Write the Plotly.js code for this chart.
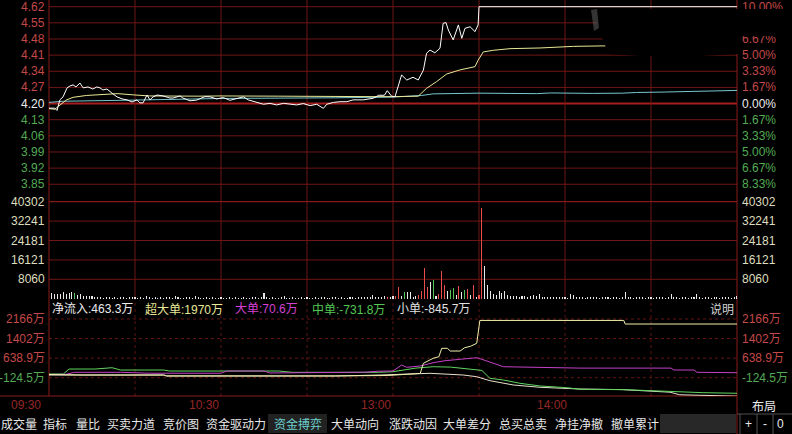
<!DOCTYPE html>
<html>
<head>
<meta charset="utf-8">
<script src="https://cdn.plot.ly/plotly-3.0.1.min.js"></script>
<style>
html,body{margin:0;padding:0;background:#000;}
#chart{width:792px;height:434px;}
</style>
</head>
<body>
<div id="chart"></div>
<script>
// Time axis is a minute index: 0 = 09:30, 120 = 11:30 / 13:00, 240 = 15:00
const timeLabels = ['09:30', '10:30', '13:00', '14:00'];
const timeMinutes = [0, 60, 120, 180];

// Price axis (left) and change vs previous close (right)
const priceTicks = [4.62, 4.55, 4.48, 4.41, 4.34, 4.27, 4.20, 4.13, 4.06, 3.99, 3.92, 3.85];
const pctLabels = ['10.00%', '8.33%', '6.67%', '5.00%', '3.33%', '1.67%', '0.00%', '1.67%', '3.33%', '5.00%', '6.67%', '8.33%'];
const prevClose = 4.20;

// Volume and fund-flow axes
const volTicks = [40302, 32241, 24181, 16121, 8060];
const flowTicks = [2166, 1402, 638.9, -124.5];
const flowTickLabels = ['2166万', '1402万', '638.9万', '-124.5万'];

// Last price (white)
const priceT = [0, 2, 2.8, 3.8, 4.9, 6.3, 7.3, 8.4, 9.4, 10.8, 11.9, 13.6, 15.3, 16.7, 17.8, 18.8, 20.2, 21.3, 22.3, 23.7,
  25.5, 27.2, 29, 30.7, 31.7, 32.8, 34.2, 35.2, 36.3, 37.7, 39.8, 42.2, 43.3, 45.7, 46.7, 49.2, 51.5, 54.4, 56.2, 58.5,
  60.8, 63.1, 65.5, 67.8, 69.5, 72.4, 74.8, 77.1, 79.4, 81.8, 84.1, 86.4, 88.7, 91.1, 93.4, 95.7, 96.9, 99.2, 101.5, 103.9,
  106.1, 109.6, 113.1, 115, 117, 118, 119.5, 120.7, 123, 124.8, 127, 128.8, 130.6, 131.7, 132.9, 134.6, 136.4, 137.5, 138.5, 139.3,
  141, 142.8, 144, 145.1, 146.9, 148.6, 149.7, 150, 240];
const priceV = [4.18, 4.18, 4.17, 4.216, 4.229, 4.268, 4.276, 4.281, 4.272, 4.289, 4.268, 4.272, 4.263, 4.272, 4.268, 4.259, 4.263, 4.25, 4.242, 4.229,
  4.22, 4.216, 4.207, 4.216, 4.203, 4.203, 4.237, 4.216, 4.229, 4.237, 4.233, 4.224, 4.224, 4.233, 4.224, 4.212, 4.215, 4.23, 4.229, 4.22,
  4.226, 4.214, 4.22, 4.229, 4.216, 4.205, 4.197, 4.201, 4.194, 4.201, 4.197, 4.194, 4.2, 4.191, 4.197, 4.179, 4.197, 4.205, 4.208, 4.208,
  4.216, 4.216, 4.223, 4.236, 4.236, 4.256, 4.232, 4.23, 4.324, 4.302, 4.314, 4.302, 4.345, 4.418, 4.432, 4.42, 4.44, 4.548, 4.551, 4.519,
  4.476, 4.541, 4.483, 4.526, 4.533, 4.512, 4.541, 4.62, 4.62];

// Yellow line in the price panel
const avgT = [0, 2, 6, 8.4, 13, 21, 24, 29, 35, 52, 60, 80, 100, 113, 120, 128.8, 131.7, 135.2, 138.7, 143.4,
  148.6, 149.7, 151.5, 155, 160.8, 171.3, 182.9, 193.3, 215, 240];
const avgV = [4.178, 4.175, 4.215, 4.227, 4.235, 4.242, 4.243, 4.238, 4.233, 4.232, 4.233, 4.232, 4.229, 4.23, 4.23, 4.232, 4.266, 4.295, 4.328, 4.346,
  4.36, 4.388, 4.424, 4.431, 4.438, 4.441, 4.448, 4.45, 4.451, 4.452];

// Cyan line in the price panel
const cyanT = [0, 5, 30, 60, 100, 120, 130, 134, 150, 160, 170, 175, 182, 190, 200, 205, 215, 230, 240];
const cyanV = [4.205, 4.21, 4.215, 4.222, 4.225, 4.228, 4.235, 4.242, 4.245, 4.244, 4.243, 4.246, 4.244, 4.244, 4.245, 4.248, 4.25, 4.254, 4.257];

// Per-minute volume (minutes 1..240)
const volume = [
  2500, 1800, 1800, 2000, 2900, 1800, 2200, 2900, 2200, 1600, 2000, 1200, 1200, 1000, 1000,
  800, 600, 700, 500, 900, 600, 400, 700, 500, 600, 800, 500, 600, 900, 700,
  500, 600, 400, 1300, 600, 500, 700, 400, 600, 500, 800, 600, 500, 1000, 600,
  500, 400, 600, 700, 500, 1200, 600, 500, 400, 600, 500, 700, 400, 500, 600,
  400, 500, 600, 500, 700, 400, 500, 600, 400, 500, 800, 600, 500, 600, 2500,
  600, 500, 700, 400, 500, 600, 1300, 500, 400, 600, 500, 400, 700, 500, 600,
  500, 400, 600, 500, 700, 600, 500, 400, 600, 700, 500, 600, 400, 500, 600,
  700, 500, 600, 900, 700, 900, 600, 1500, 800, 700, 700, 1200, 900, 800, 1000,
  1300, 5000, 1200, 2900, 2900, 2900, 800, 1200, 1700, 3300, 12600, 4700, 7000, 7800, 1200,
  2000, 11600, 5500, 3000, 3700, 4300, 1500, 5300, 2600, 3700, 4000, 1600, 5600, 700, 1700,
  37560, 13600, 5700, 3000, 2000, 1600, 3300, 2500, 3000, 1600, 1100, 1000, 1100, 900, 1100,
  1100, 800, 1100, 1600, 1000, 2000, 700, 600, 800, 700, 600, 700, 800, 600, 700,
  500, 2000, 1600, 700, 600, 800, 500, 700, 600, 700, 600, 500, 700, 600, 800,
  500, 600, 700, 500, 600, 2900, 700, 600, 500, 700, 600, 800, 500, 700, 600,
  500, 700, 600, 800, 500, 700, 2000, 600, 700, 500, 800, 600, 500, 700, 600,
  2000, 700, 500, 600, 800, 500, 700, 600, 500, 700, 600, 800, 500, 700, 1200
];
const upMinutes = [118, 121, 122, 129, 130, 131, 132, 136, 137, 138, 143, 146, 148, 150, 151];
const downMinutes = [9, 124, 134, 140, 141, 145];

// Cumulative fund flow by order size (万)
const superT = [0, 4, 12, 40, 41, 100, 118, 125, 129.5, 130.6, 134, 136, 137, 139, 140, 143.4, 145, 147, 149.2, 150.3, 200.5, 201, 240];
const superV = [0, -10, -19, -19, -55, -55, -40, 10, 40, 437, 632, 694, 1021, 1021, 916, 916, 1045, 1100, 1216, 2110, 2110, 1970, 1970];

const largeT = [0, 6, 9, 25, 35, 60, 62, 75, 77, 110, 115, 120, 123, 124.8, 129.4, 134, 138.1, 143.4, 149.2, 150.3, 155, 158.5, 185, 217, 218, 225, 226, 240];
const largeV = [0, 10, 86, 86, 50, 50, 136, 136, 60, 90, 130, 136, 370, 281, 330, 460, 538, 592, 655, 620, 437, 304, 250, 250, 175, 175, 86, 70.6];

const mediumT = [0, 5, 7, 16, 22, 25, 40, 42, 80, 85, 115, 120, 128, 134, 140, 149, 151, 153.8, 158.5, 164.3, 171.3, 180.6, 185.2, 200.3, 216.6, 228.2, 240];
const mediumV = [20, 20, 214, 214, 265, 175, 175, 136, 136, 86, 86, 109, 250, 304, 290, 175, 160, -148, -214, -343, -448, -514, -577, -590, -670, -709, -731.8];

const smallT = [0, 10, 40, 41, 100, 115.5, 125.9, 132.9, 144.5, 149.2, 153.8, 162, 171.3, 185.2, 200, 216.6, 220, 240];
const smallV = [-20, -20, -20, -58, -58, -19, 8, 47, -19, -86, -241, -409, -499, -565, -590, -690, -790, -845.7];

const netInflow = 463.3;

// ---------- layout helpers (pixel -> paper) ----------
const W = 792, H = 434, L = 49, R = 737, TOP = 0, BOT = 396;
const px = x => (x - L) / (R - L);
const py = y => (BOT - y) / (BOT - TOP);

const NUM = 'Liberation Sans, Arial, Noto Sans CJK SC, sans-serif';
const CJK = 'Noto Sans CJK SC, sans-serif';
const RED_T = 'rgb(196,72,72)', GRN_T = 'rgb(84,170,84)', WHT_T = 'rgb(236,236,236)', BEIGE_T = 'rgb(222,222,190)';

const annotations = [];
function label(text, xPix, yVal, yref, color, anchor, family, size) {
  annotations.push({
    text: text, xref: 'paper', yref: yref, x: px(xPix), y: yVal,
    xanchor: anchor, yanchor: 'middle', showarrow: false, borderpad: 0,
    font: {family: family || NUM, size: size || 12, color: color}
  });
}

// axis labels
priceTicks.forEach((p, i) => {
  const c = p > prevClose ? RED_T : (p < prevClose ? GRN_T : WHT_T);
  label(p.toFixed(2), 46, p, 'y', c, 'right');
  label(pctLabels[i], 741, p, 'y', c, 'left');
});
volTicks.forEach(v => {
  label(String(v), 46, v, 'y2', BEIGE_T, 'right');
  label(String(v), 741, v, 'y2', BEIGE_T, 'left');
});
flowTicks.forEach((v, i) => {
  const c = v > 0 ? RED_T : GRN_T;
  label(flowTickLabels[i], 46, v, 'y3', c, 'right');
  label(flowTickLabels[i], 741, v, 'y3', c, 'left');
});

// time labels under the chart, set just left of their gridline
const timeNudge = [-7, -1, -1, 3];
timeLabels.forEach((t, i) => {
  const xp = L + timeMinutes[i] * (R - L) / 240;
  annotations.push({text: t, xref: 'paper', yref: 'paper', x: px(xp + timeNudge[i]), y: py(405),
    xanchor: 'right', yanchor: 'middle', showarrow: false, borderpad: 0,
    font: {family: NUM, size: 12, color: 'rgb(150,38,38)'}});
});

// fund-flow legend row
function rowText(text, xPix, color, anchor) {
  annotations.push({text: text, xref: 'paper', yref: 'paper', x: px(xPix), y: py(309),
    xanchor: anchor || 'left', yanchor: 'middle', showarrow: false, borderpad: 0,
    font: {family: NUM, size: 12, color: color}});
}
const fmt = v => (Math.round(v * 10) / 10).toString() + '万';
rowText('净流入:' + fmt(netInflow), 51, WHT_T);
rowText('超大单:' + fmt(superV[superV.length - 1]), 144, 'rgb(232,232,150)');
rowText('大单:' + fmt(largeV[largeV.length - 1]), 234, 'rgb(214,64,214)');
rowText('中单:' + fmt(mediumV[mediumV.length - 1]), 311, 'rgb(84,200,84)');
rowText('小单:' + fmt(smallV[smallV.length - 1]), 396, 'rgb(226,226,226)');
rowText('说明', 735, 'rgb(210,210,210)', 'right');

// bottom tab bar
const tabs = ['成交量', '指标', '量比', '买卖力道', '竞价图', '资金驱动力', '资金搏弈', '大单动向', '涨跌动因', '大单差分', '总买总卖', '净挂净撤', '撤单累计'];
const tabX = [0, 42, 75, 106, 162, 205, 273, 330, 388, 442, 498, 554, 610];
tabs.forEach((t, i) => {
  annotations.push({text: t, xref: 'paper', yref: 'paper', x: px(tabX[i]), y: py(423),
    xanchor: 'left', yanchor: 'middle', showarrow: false, borderpad: 0,
    font: {family: CJK, size: 12, color: t === '资金搏弈' ? 'rgb(110,208,208)' : 'rgb(232,232,232)'}});
});
[['+', 748], ['-', 765], ['0', 781]].forEach(b => {
  annotations.push({text: b[0], xref: 'paper', yref: 'paper', x: px(b[1]), y: py(424),
    xanchor: 'center', yanchor: 'middle', showarrow: false, borderpad: 0,
    font: {family: NUM, size: 12, color: 'rgb(232,232,232)'}});
});
annotations.push({text: '布局', xref: 'paper', yref: 'paper', x: px(764), y: py(405),
  xanchor: 'center', yanchor: 'middle', showarrow: false, borderpad: 0,
  font: {family: CJK, size: 12, color: 'rgb(236,236,236)'}});

// black block over the upper right labels (drawn last so it sits on top of them)
annotations.push({text: ' ', xref: 'paper', yref: 'paper', x: px(738), y: py(9),
  xanchor: 'left', yanchor: 'top', showarrow: false, borderpad: 0, borderwidth: 0,
  width: 54, height: 27, bgcolor: '#000', font: {size: 1, color: '#000'}});

// ---------- grid and frame ----------
const shapes = [];
function hline(yref, y, color, width, dash, x0, x1) {
  shapes.push({type: 'line', xref: 'paper', yref: yref, x0: x0 === undefined ? 0 : x0, x1: x1 === undefined ? 1 : x1,
    y0: y, y1: y, layer: 'below', line: {color: color, width: width, dash: dash || 'solid'}});
}
function vline(x, y0, y1, color, width, dash, xref) {
  shapes.push({type: 'line', xref: xref || 'x', yref: 'paper', x0: x, x1: x, y0: y0, y1: y1,
    layer: 'below', line: {color: color, width: width, dash: dash || 'solid'}});
}
const GRID = 'rgb(112,22,22)';
priceTicks.forEach(p => {
  if (p === prevClose) hline('y', p, 'rgb(165,30,30)', 2);
  else hline('y', p, GRID, 1);
});
volTicks.forEach((v, i) => hline('y2', v, i === 0 ? 'rgb(165,30,30)' : GRID, 1));
flowTicks.forEach(v => hline('y3', v, 'rgb(100,22,22)', 1, 'dot'));
for (let m = 30; m < 240; m += 30) {
  vline(m, py(299), 1, GRID, 1);
  vline(m, 0, py(299), 'rgb(90,20,20)', 1, 'dot');
}
// frame
vline(0, 0, 1, 'rgb(140,26,26)', 1, 'solid', 'paper');
vline(1, py(434), 1, 'rgb(140,26,26)', 1, 'solid', 'paper');
hline('paper', 0, 'rgb(140,26,26)', 1, 'solid', px(0), 1);
hline('paper', py(414), 'rgb(80,80,80)', 1, 'solid', 1, px(792));
[740, 757, 773].forEach(x => vline(px(x), py(434), py(414), 'rgb(80,80,80)', 1, 'solid', 'paper'));

// tab bar tones
shapes.push({type: 'rect', xref: 'paper', yref: 'paper', x0: px(268), x1: px(327), y0: py(433), y1: py(414),
  layer: 'below', fillcolor: 'rgb(34,34,34)', line: {width: 0}});
shapes.push({type: 'rect', xref: 'paper', yref: 'paper', x0: px(660), x1: px(736), y0: py(433), y1: py(414),
  layer: 'below', fillcolor: 'rgb(40,40,40)', line: {width: 0}});

// masked block in the upper right corner of the plot
const maskPts = [[596, 9], [790, 9], [790, 36], [741, 36], [738, 33], [738, 54], [700, 56], [640, 56], [608, 54], [604, 42], [598, 30]];
shapes.push({type: 'path', xref: 'paper', yref: 'paper', layer: 'above', fillcolor: '#000', line: {width: 0},
  path: 'M' + maskPts.map(p => px(p[0]).toFixed(5) + ',' + py(p[1]).toFixed(5)).join(' L') + ' Z'});
shapes.push({type: 'path', xref: 'paper', yref: 'paper', layer: 'above', fillcolor: 'rgba(95,95,95,0.55)', line: {width: 0},
  path: 'M' + [[591, 10], [597, 9], [599, 28], [594, 31]].map(p => px(p[0]).toFixed(5) + ',' + py(p[1]).toFixed(5)).join(' L') + ' Z'});

// ---------- traces ----------
const volX = volume.map((_, i) => i + 1);
const volColors = volX.map(m => upMinutes.includes(m) ? 'rgb(236,78,78)' : (downMinutes.includes(m) ? 'rgb(84,196,84)' : 'rgb(232,232,232)'));

const line = (x, y, color, yaxis) => ({type: 'scatter', mode: 'lines', x: x, y: y, yaxis: yaxis, xaxis: 'x',
  line: {color: color, width: 1}, hoverinfo: 'skip', showlegend: false});

const data = [
  line(cyanT, cyanV, 'rgb(120,198,208)', 'y'),
  line(avgT, avgV, 'rgb(232,232,150)', 'y'),
  line(priceT, priceV, '#ffffff', 'y'),
  {type: 'bar', x: volX, y: volume, yaxis: 'y2', xaxis: 'x', width: 0.38,
    marker: {color: volColors, line: {width: 0}}, hoverinfo: 'skip', showlegend: false},
  line(smallT, smallV, 'rgb(232,224,204)', 'y3'),
  line(mediumT, mediumV, 'rgb(96,214,96)', 'y3'),
  line(largeT, largeV, 'rgb(196,66,200)', 'y3'),
  line(superT, superV, 'rgb(240,240,170)', 'y3')
];

const hiddenAxis = {showgrid: false, zeroline: false, showticklabels: false, ticks: '', showline: false, fixedrange: true};
const layout = {
  width: W, height: H,
  margin: {l: L, r: W - R, t: TOP, b: H - BOT, pad: 0},
  paper_bgcolor: '#000', plot_bgcolor: 'rgba(0,0,0,0)',
  showlegend: false, bargap: 0,
  xaxis: Object.assign({range: [0, 240], domain: [0, 1], anchor: 'y3'}, hiddenAxis),
  yaxis: Object.assign({domain: [py(192), py(5)], range: [3.8164, 4.6274], anchor: 'x'}, hiddenAxis),
  yaxis2: Object.assign({domain: [py(299), py(192)], range: [-124, 44332], anchor: 'x'}, hiddenAxis),
  yaxis3: Object.assign({domain: [0, py(299)], range: [-838.5, 2946], anchor: 'x'}, hiddenAxis),
  shapes: shapes,
  annotations: annotations
};

Plotly.newPlot('chart', data, layout, {staticPlot: true, displayModeBar: false});
</script>
</body>
</html>
